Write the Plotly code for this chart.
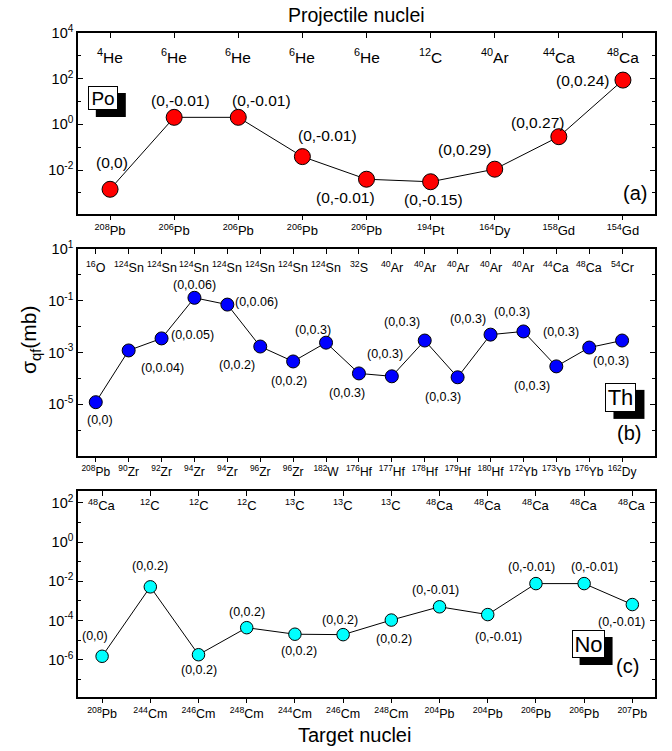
import numpy as np
import plotly.graph_objects as go

FONT = "Liberation Sans, Arial, sans-serif"

# ---------------- data ----------------
# Panel (a): Po
po_proj = ["<sup>4</sup>He", "<sup>6</sup>He", "<sup>6</sup>He", "<sup>6</sup>He", "<sup>6</sup>He",
           "<sup>12</sup>C", "<sup>40</sup>Ar", "<sup>44</sup>Ca", "<sup>48</sup>Ca"]
po_targ = ["<sup>208</sup>Pb", "<sup>206</sup>Pb", "<sup>206</sup>Pb", "<sup>206</sup>Pb", "<sup>206</sup>Pb",
           "<sup>194</sup>Pt", "<sup>164</sup>Dy", "<sup>158</sup>Gd", "<sup>154</sup>Gd"]
po_sigma = [1.45e-3, 2.04, 2.04, 0.039, 4.0e-3, 3.1e-3, 0.011, 0.29, 87]
po_labels = ["(0,0)", "(0,-0.01)", "(0,-0.01)", "(0,-0.01)", "(0,-0.01)", "(0,-0.15)",
             "(0,0.29)", "(0,0.27)", "(0,0.24)"]

# Panel (b): Th
th_proj = ["<sup>16</sup>O", "<sup>124</sup>Sn", "<sup>124</sup>Sn", "<sup>124</sup>Sn", "<sup>124</sup>Sn",
           "<sup>124</sup>Sn", "<sup>124</sup>Sn", "<sup>124</sup>Sn", "<sup>32</sup>S", "<sup>40</sup>Ar",
           "<sup>40</sup>Ar", "<sup>40</sup>Ar", "<sup>40</sup>Ar", "<sup>40</sup>Ar", "<sup>44</sup>Ca",
           "<sup>48</sup>Ca", "<sup>54</sup>Cr"]
th_targ = ["<sup>208</sup>Pb", "<sup>90</sup>Zr", "<sup>92</sup>Zr", "<sup>94</sup>Zr", "<sup>94</sup>Zr",
           "<sup>96</sup>Zr", "<sup>96</sup>Zr", "<sup>182</sup>W", "<sup>176</sup>Hf", "<sup>177</sup>Hf",
           "<sup>178</sup>Hf", "<sup>179</sup>Hf", "<sup>180</sup>Hf", "<sup>172</sup>Yb", "<sup>173</sup>Yb",
           "<sup>176</sup>Yb", "<sup>162</sup>Dy"]
th_sigma = [1.2e-5, 1.2e-3, 3.5e-3, 0.13, 0.071, 1.7e-3, 4.5e-4, 2.4e-3, 1.55e-4, 1.2e-4,
            2.9e-3, 1.1e-4, 4.9e-3, 6.5e-3, 2.9e-4, 1.55e-3, 2.9e-3]
th_labels = ["(0,0)", "(0,0.04)", "(0,0.05)", "(0,0.06)", "(0,0.06)", "(0,0.2)", "(0,0.2)",
             "(0,0.3)", "(0,0.3)", "(0,0.3)", "(0,0.3)", "(0,0.3)", "(0,0.3)", "(0,0.3)",
             "(0,0.3)", "(0,0.3)", "(0,0.3)"]

# Panel (c): No
no_proj = ["<sup>48</sup>Ca", "<sup>12</sup>C", "<sup>12</sup>C", "<sup>12</sup>C", "<sup>13</sup>C",
           "<sup>13</sup>C", "<sup>13</sup>C", "<sup>48</sup>Ca", "<sup>48</sup>Ca", "<sup>48</sup>Ca",
           "<sup>48</sup>Ca", "<sup>48</sup>Ca"]
no_targ = ["<sup>208</sup>Pb", "<sup>244</sup>Cm", "<sup>246</sup>Cm", "<sup>248</sup>Cm", "<sup>244</sup>Cm",
           "<sup>246</sup>Cm", "<sup>248</sup>Cm", "<sup>204</sup>Pb", "<sup>204</sup>Pb", "<sup>206</sup>Pb",
           "<sup>206</sup>Pb", "<sup>207</sup>Pb"]
no_sigma = [1.5e-6, 5.2e-3, 1.8e-6, 4.3e-5, 2.0e-5, 1.9e-5, 1.05e-4, 5.0e-4, 2.0e-4,
            7.6e-3, 7.6e-3, 6.5e-4]
no_labels = ["(0,0)", "(0,0.2)", "(0,0.2)", "(0,0.2)", "(0,0.2)", "(0,0.2)", "(0,0.2)",
             "(0,-0.01)", "(0,-0.01)", "(0,-0.01)", "(0,-0.01)", "(0,-0.01)"]

# ---------------- styling / layout (pixel offsets of the value labels) ----------------
po_off = [(2, -27), (6, -17), (23, -17), (25, -21), (-21, 18), (3, 18), (-30, -20), (-21, -14), (-40, 0)]
th_off = [(4, 18), (34, 18), (31, -3), (0, -13), (29, -3), (-23, 18), (-4, 20), (-13, -13),
          (-12, 20), (-7, -22), (-23, -19), (-15, 20), (-23, -16), (-11, -19), (-24, 20),
          (-28, -16), (-11, 20)]
no_off = [(-7, -20), (0, -21), (0, 15), (0, -16), (4, 17), (-3, -15), (3, 19), (-4, -17),
          (11, 22), (-4, -17), (10, -17), (-11, 17)]

panels = [
    dict(proj=po_proj, targ=po_targ, sig=po_sigma, lab=po_labels, off=po_off, color="#FF0000",
         msize=16, yr=[-3.92, 4.0], major=[4, 2, 0, -2], minor=[3, 1, -1, -3], xr=[-0.5, 8.5],
         dom=[0.7274, 1.0], projy=0.875, labfs=15.5, projfs=15.5, targfs=13,
         name="Po", box=(0.043, 0.641, 28, 22, 19), tag="(a)", tagpos=(0.965, 0.115)),
    dict(proj=th_proj, targ=th_targ, sig=th_sigma, lab=th_labels, off=th_off, color="#0000FF",
         msize=13, yr=[-7.0, 1.0], major=[1, -1, -3, -5], minor=[0, -2, -4, -6], xr=[-0.54, 17.0],
         dom=[0.3630, 0.6747], projy=0.913, labfs=12.5, projfs=12.5, targfs=12,
         name="Th", box=(0.941, 0.283, 29, 27, 22), tag="(b)", tagpos=(0.955, 0.11)),
    dict(proj=no_proj, targ=no_targ, sig=no_sigma, lab=no_labels, off=no_off, color="#00FFFF",
         msize=12.5, yr=[-7.9, 2.6], major=[2, 0, -2, -4, -6], minor=[1, -1, -3, -5, -7], xr=[-0.5, 11.47],
         dom=[0.0, 0.3102], projy=0.932, labfs=12.5, projfs=13, targfs=12.5,
         name="No", box=(0.884, 0.257, 31, 26, 22), tag="(c)", tagpos=(0.952, 0.15)),
]

fig = go.Figure()
annotations = []
shapes = []

for k, p in enumerate(panels):
    n = k + 1
    xa = "x" if n == 1 else f"x{n}"
    ya = "y" if n == 1 else f"y{n}"
    xs = list(range(len(p["sig"])))
    fig.add_trace(go.Scatter(
        x=xs, y=p["sig"], xaxis=xa, yaxis=ya, mode="lines+markers",
        line=dict(color="black", width=1),
        marker=dict(size=p["msize"], color=p["color"], line=dict(color="black", width=1)),
        showlegend=False, hoverinfo="skip"))
    # empty trace for overlay top axis
    top = f"x{n + 3}"
    fig.add_trace(go.Scatter(x=[None], y=[None], xaxis=top, yaxis=ya, showlegend=False,
                             hoverinfo="skip", mode="markers"))

    axis_common = dict(showline=True, linewidth=1.5, linecolor="black", showgrid=False, zeroline=False)
    fig.layout[("xaxis" if n == 1 else f"xaxis{n}")] = dict(
        **axis_common, anchor=ya, domain=[0, 1], range=p["xr"], tickmode="array",
        tickvals=xs, ticktext=p["targ"], ticks="outside", ticklen=4, tickwidth=1, tickangle=0,
        tickcolor="black", tickfont=dict(family=FONT, size=p["targfs"], color="black"), mirror=False)
    fig.layout[f"xaxis{n + 3}"] = dict(
        **axis_common, overlaying=xa, anchor=ya, side="top", range=p["xr"], tickmode="array",
        tickvals=xs, ticks="inside", ticklen=5, tickwidth=1, tickcolor="black", showticklabels=False)
    fig.layout[("yaxis" if n == 1 else f"yaxis{n}")] = dict(
        **axis_common, type="log", anchor=xa, domain=p["dom"], range=p["yr"], tickmode="array",
        tickvals=[10.0 ** e for e in p["major"]],
        ticktext=[f"10<sup>{e}</sup>" for e in p["major"]],
        ticks="inside", ticklen=5, tickwidth=1, tickcolor="black", mirror="ticks",
        tickfont=dict(family=FONT, size=14.5, color="black"),
        minor=dict(tickmode="array", tickvals=[10.0 ** e for e in p["minor"]], ticks="inside",
                   ticklen=3, tickwidth=1, tickcolor="black", showgrid=False))

    # value labels
    for i, (v, t, (dx, dy)) in enumerate(zip(p["sig"], p["lab"], p["off"])):
        annotations.append(dict(x=i, y=float(np.log10(v)), xref=xa, yref=ya, text=t, showarrow=False,
                                xanchor="center", yanchor="middle", xshift=dx, yshift=-dy,
                                font=dict(family=FONT, size=p["labfs"], color="black")))
    # projectile labels inside top
    for i, t in enumerate(p["proj"]):
        annotations.append(dict(x=i, y=p["projy"], xref=xa, yref=f"{ya} domain", text=t,
                                showarrow=False, xanchor="center", yanchor="middle",
                                font=dict(family=FONT, size=p["projfs"], color="black")))
    # boxed nucleus label with shadow
    bx, by, bw, bh, bfs = p["box"]
    shapes.append(dict(type="rect", xref=f"{xa} domain", yref=f"{ya} domain",
                       xsizemode="pixel", ysizemode="pixel", xanchor=bx, yanchor=by,
                       x0=-bw / 2 - 1 + 8, x1=bw / 2 + 1 + 8, y0=-bh / 2 - 1 - 7, y1=bh / 2 + 1 - 7,
                       fillcolor="black", line=dict(width=0), layer="above"))
    annotations.append(dict(x=bx, y=by, xref=f"{xa} domain", yref=f"{ya} domain", text=p["name"],
                            showarrow=False, width=bw, height=bh, bgcolor="white",
                            bordercolor="black", borderwidth=1, borderpad=0,
                            xanchor="center", yanchor="middle",
                            font=dict(family=FONT, size=bfs, color="black")))
    # panel tag
    annotations.append(dict(x=p["tagpos"][0], y=p["tagpos"][1], xref=f"{xa} domain",
                            yref=f"{ya} domain", text=p["tag"], showarrow=False,
                            xanchor="center", yanchor="middle",
                            font=dict(family=FONT, size=20, color="black")))

# titles
annotations.append(dict(x=0.482, y=1.027, xref="paper", yref="paper", text="Projectile nuclei",
                        showarrow=False, xanchor="center", yanchor="middle",
                        font=dict(family=FONT, size=19.5, color="black")))
annotations.append(dict(x=0.48, y=-0.057, xref="paper", yref="paper", text="Target nuclei",
                        showarrow=False, xanchor="center", yanchor="middle",
                        font=dict(family=FONT, size=20, color="black")))
annotations.append(dict(x=-0.083, y=0.538, xref="paper", yref="paper", text="σ<sub>qf</sub>(mb)",
                        textangle=-90, showarrow=False, xanchor="center", yanchor="middle",
                        font=dict(family=FONT, size=21, color="black")))

fig.update_layout(
    width=672, height=751, autosize=False,
    margin=dict(l=78, r=17, t=33, b=54),
    paper_bgcolor="white", plot_bgcolor="white",
    annotations=annotations, shapes=shapes,
    font=dict(family=FONT, color="black"),
)

fig.write_html("out.html")
